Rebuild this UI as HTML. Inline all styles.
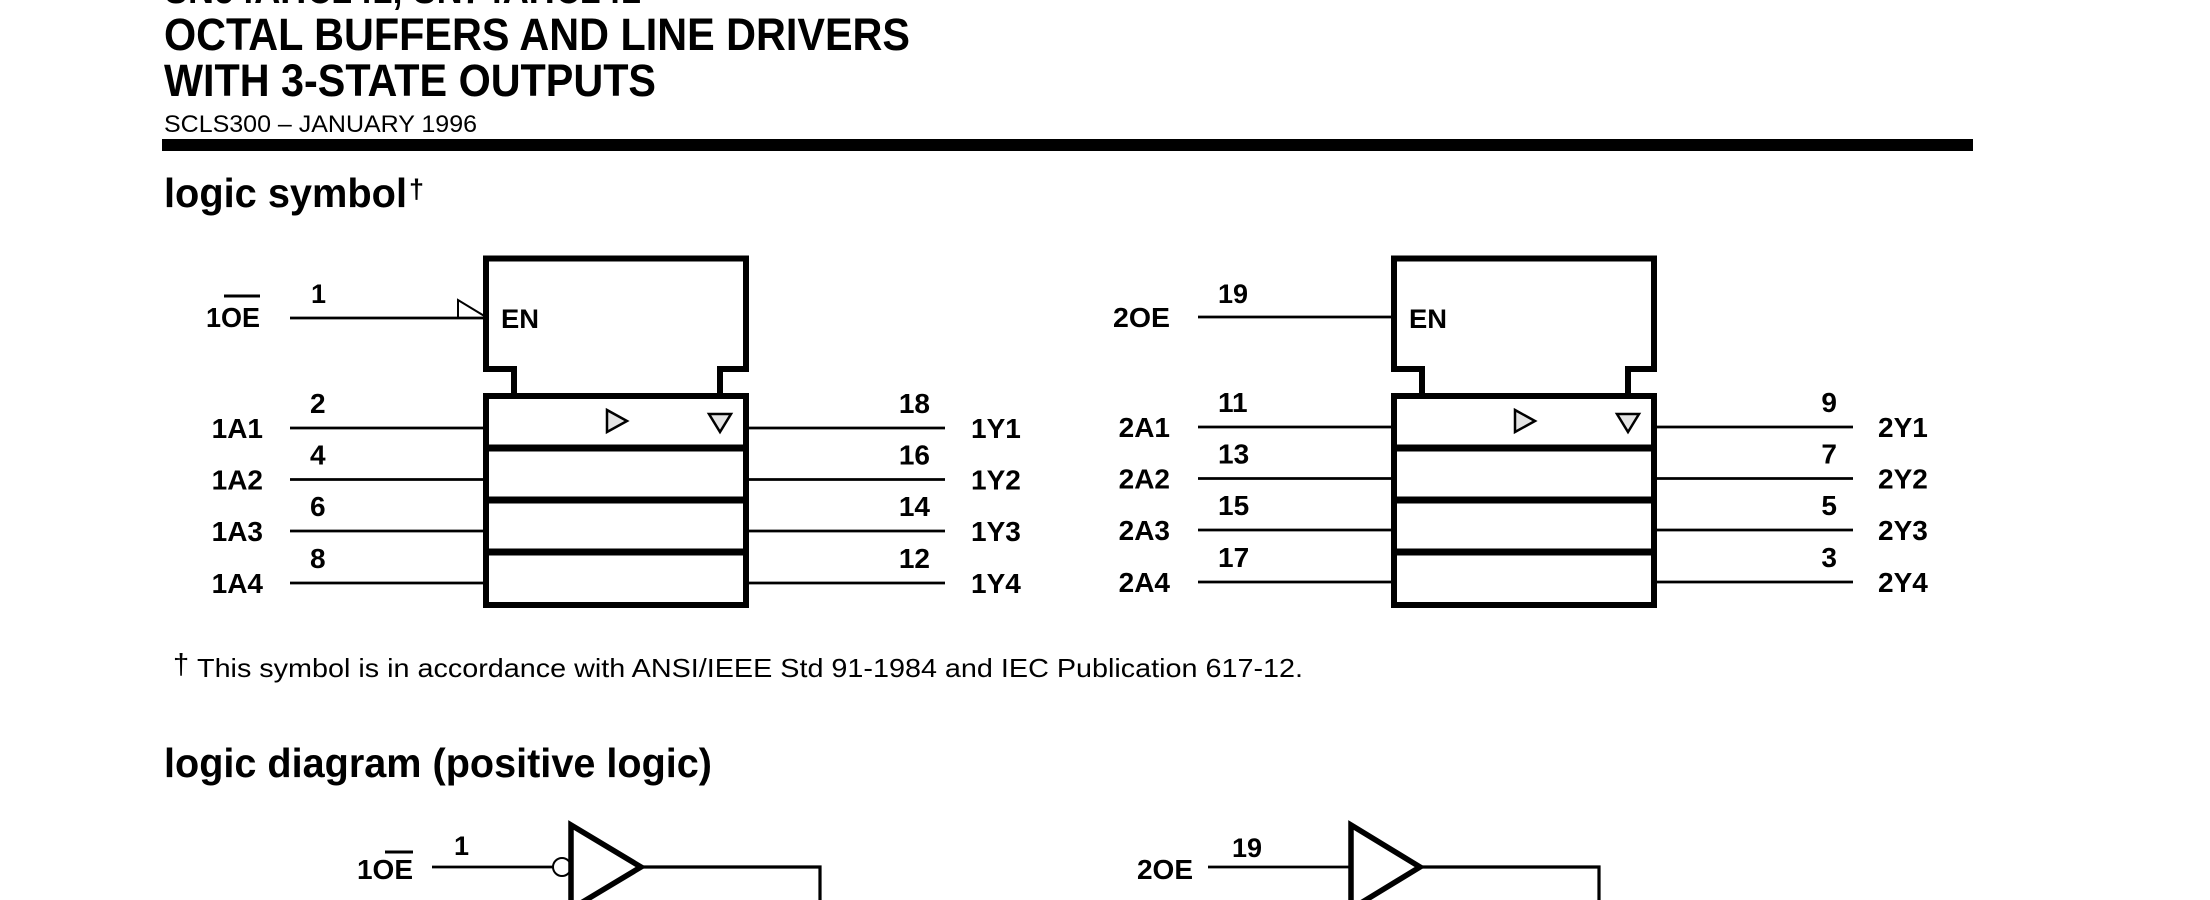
<!DOCTYPE html>
<html>
<head>
<meta charset="utf-8">
<style>
  html,body{margin:0;padding:0;background:#fff;}
  svg{display:block;}
  text{font-family:"Liberation Sans",Arial,Helvetica,sans-serif;fill:#000;}
  .b{font-weight:bold;}
</style>
</head>
<body>
<svg xmlns="http://www.w3.org/2000/svg" width="2210" height="900" viewBox="0 0 2210 900">
  <rect x="0" y="0" width="2210" height="900" fill="#fff"/>

  <!-- Header -->
  <text class="b" x="164" y="3" font-size="45" textLength="477" lengthAdjust="spacingAndGlyphs">SN54AHC241, SN74AHC241</text>
  <text class="b" x="164" y="50" font-size="45" textLength="746" lengthAdjust="spacingAndGlyphs">OCTAL BUFFERS AND LINE DRIVERS</text>
  <text class="b" x="164" y="96" font-size="45" textLength="492" lengthAdjust="spacingAndGlyphs">WITH 3-STATE OUTPUTS</text>
  <text x="164" y="132" font-size="24" textLength="313" lengthAdjust="spacingAndGlyphs">SCLS300 – JANUARY 1996</text>
  <rect x="162" y="139" width="1811" height="12" fill="#000"/>

  <text class="b" x="164" y="207" font-size="41" textLength="243" lengthAdjust="spacingAndGlyphs">logic symbol</text>
  <text class="b" x="409" y="198" font-size="27">†</text>

  <!-- Symbol 1 -->
  <g fill="none" stroke="#000">
    <polyline points="514,396 514,369 486,369 486,258.5 746,258.5 746,369 720,369 720,396" stroke-width="6" stroke-linejoin="miter"/>
    <rect x="486" y="396" width="260" height="209" stroke-width="6"/>
    <line x1="486" y1="448" x2="746" y2="448" stroke-width="7"/>
    <line x1="486" y1="500" x2="746" y2="500" stroke-width="7"/>
    <line x1="486" y1="552" x2="746" y2="552" stroke-width="7"/>
    <g stroke-width="2.7">
      <line x1="290" y1="318" x2="486" y2="318"/>
      <line x1="290" y1="428" x2="486" y2="428"/>
      <line x1="290" y1="479.5" x2="486" y2="479.5"/>
      <line x1="290" y1="531" x2="486" y2="531"/>
      <line x1="290" y1="583" x2="486" y2="583"/>
      <line x1="746" y1="428" x2="945" y2="428"/>
      <line x1="746" y1="479.5" x2="945" y2="479.5"/>
      <line x1="746" y1="531" x2="945" y2="531"/>
      <line x1="746" y1="583" x2="945" y2="583"/>
    </g>
    <polyline points="458,318 458,300 486,317" stroke-width="2"/>
    <polygon points="607,410 627,421 607,432" stroke-width="2.5" fill="#e4e4e4"/>
    <polygon points="709,414 731,414 720,432" stroke-width="2.5" fill="#e4e4e4"/>
  </g>
  <text class="b" x="501" y="328" font-size="27" textLength="38" lengthAdjust="spacingAndGlyphs">EN</text>
  <text class="b" x="206" y="327" font-size="28" textLength="54" lengthAdjust="spacingAndGlyphs">1OE</text>
  <line x1="224" y1="296" x2="260" y2="296" stroke="#000" stroke-width="3"/>
  <text class="b" x="311" y="303" font-size="27">1</text>
  <g class="b" font-size="28">
    <text class="b" x="263" y="438" text-anchor="end">1A1</text>
    <text class="b" x="263" y="489.5" text-anchor="end">1A2</text>
    <text class="b" x="263" y="541" text-anchor="end">1A3</text>
    <text class="b" x="263" y="593" text-anchor="end">1A4</text>
    <text class="b" x="310" y="413">2</text>
    <text class="b" x="310" y="464.5">4</text>
    <text class="b" x="310" y="516">6</text>
    <text class="b" x="310" y="568">8</text>
    <text class="b" x="930" y="413" text-anchor="end">18</text>
    <text class="b" x="930" y="464.5" text-anchor="end">16</text>
    <text class="b" x="930" y="516" text-anchor="end">14</text>
    <text class="b" x="930" y="568" text-anchor="end">12</text>
    <text class="b" x="971" y="438">1Y1</text>
    <text class="b" x="971" y="489.5">1Y2</text>
    <text class="b" x="971" y="541">1Y3</text>
    <text class="b" x="971" y="593">1Y4</text>
  </g>

  <!-- Symbol 2 -->
  <g transform="translate(908,0)" fill="none" stroke="#000">
    <polyline points="514,396 514,369 486,369 486,258.5 746,258.5 746,369 720,369 720,396" stroke-width="6" stroke-linejoin="miter"/>
    <rect x="486" y="396" width="260" height="209" stroke-width="6"/>
    <line x1="486" y1="448" x2="746" y2="448" stroke-width="7"/>
    <line x1="486" y1="500" x2="746" y2="500" stroke-width="7"/>
    <line x1="486" y1="552" x2="746" y2="552" stroke-width="7"/>
    <g stroke-width="2.7">
      <line x1="290" y1="317" x2="486" y2="317"/>
      <line x1="290" y1="427" x2="486" y2="427"/>
      <line x1="290" y1="478.5" x2="486" y2="478.5"/>
      <line x1="290" y1="530" x2="486" y2="530"/>
      <line x1="290" y1="582" x2="486" y2="582"/>
      <line x1="746" y1="427" x2="945" y2="427"/>
      <line x1="746" y1="478.5" x2="945" y2="478.5"/>
      <line x1="746" y1="530" x2="945" y2="530"/>
      <line x1="746" y1="582" x2="945" y2="582"/>
    </g>
    <polygon points="607,410 627,421 607,432" stroke-width="2.5" fill="#e4e4e4"/>
    <polygon points="709,414 731,414 720,432" stroke-width="2.5" fill="#e4e4e4"/>
  </g>
  <text class="b" x="1409" y="328" font-size="27" textLength="38" lengthAdjust="spacingAndGlyphs">EN</text>
  <text class="b" x="1113" y="327" font-size="28" textLength="57" lengthAdjust="spacingAndGlyphs">2OE</text>
  <text class="b" x="1218" y="303" font-size="27">19</text>
  <g class="b" font-size="28">
    <text class="b" x="1170" y="437" text-anchor="end">2A1</text>
    <text class="b" x="1170" y="488.5" text-anchor="end">2A2</text>
    <text class="b" x="1170" y="540" text-anchor="end">2A3</text>
    <text class="b" x="1170" y="592" text-anchor="end">2A4</text>
    <text class="b" x="1218" y="412">11</text>
    <text class="b" x="1218" y="463.5">13</text>
    <text class="b" x="1218" y="515">15</text>
    <text class="b" x="1218" y="567">17</text>
    <text class="b" x="1837" y="412" text-anchor="end">9</text>
    <text class="b" x="1837" y="463.5" text-anchor="end">7</text>
    <text class="b" x="1837" y="515" text-anchor="end">5</text>
    <text class="b" x="1837" y="567" text-anchor="end">3</text>
    <text class="b" x="1878" y="437">2Y1</text>
    <text class="b" x="1878" y="488.5">2Y2</text>
    <text class="b" x="1878" y="540">2Y3</text>
    <text class="b" x="1878" y="592">2Y4</text>
  </g>

  <!-- Footnote -->
  <text x="173" y="674" font-size="29">†</text>
  <text x="197" y="677" font-size="26" textLength="1106" lengthAdjust="spacingAndGlyphs">This symbol is in accordance with ANSI/IEEE Std 91-1984 and IEC Publication 617-12.</text>

  <!-- Logic diagram heading -->
  <text class="b" x="164" y="777" font-size="41" textLength="548" lengthAdjust="spacingAndGlyphs">logic diagram (positive logic)</text>

  <!-- Gate 1 -->
  <text class="b" x="413" y="879" font-size="28" text-anchor="end">1OE</text>
  <line x1="385" y1="852" x2="413" y2="852" stroke="#000" stroke-width="3"/>
  <text class="b" x="454" y="855" font-size="27">1</text>
  <line x1="432" y1="867" x2="553" y2="867" stroke="#000" stroke-width="2.7"/>
  <circle cx="562" cy="867" r="9" fill="#fff" stroke="#000" stroke-width="2"/>
  <path d="M571,825 L641,867 L571,909 Z" fill="#fff" stroke="#000" stroke-width="5.5" stroke-linejoin="miter"/>
  <polyline points="641,867 820,867 820,905" fill="none" stroke="#000" stroke-width="3.2"/>

  <!-- Gate 2 -->
  <text class="b" x="1193" y="879" font-size="28" text-anchor="end">2OE</text>
  <text class="b" x="1232" y="857" font-size="27">19</text>
  <line x1="1208" y1="867" x2="1351" y2="867" stroke="#000" stroke-width="2.7"/>
  <path d="M1351,825 L1420,867 L1351,909 Z" fill="#fff" stroke="#000" stroke-width="5.5" stroke-linejoin="miter"/>
  <polyline points="1420,867 1599,867 1599,905" fill="none" stroke="#000" stroke-width="3.2"/>
</svg>
</body>
</html>
